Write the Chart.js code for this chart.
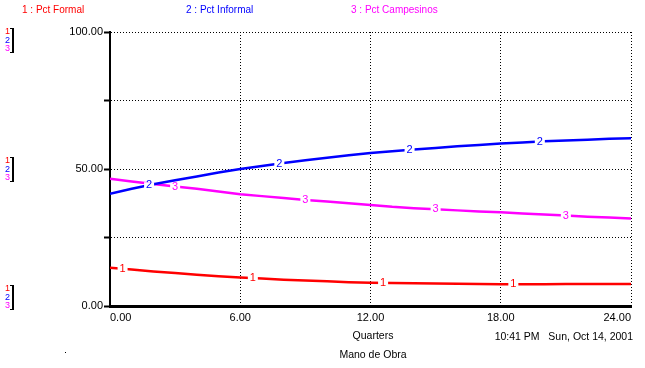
<!DOCTYPE html>
<html>
<head>
<meta charset="utf-8">
<script src="https://cdn.jsdelivr.net/npm/chart.js@4.4.0/dist/chart.umd.min.js"></script>
<style>
    html, body { margin: 0; padding: 0; background: #fff; }
    #wrap { width: 645px; height: 368px; position: relative; }
</style>
</head>
<body>
<div id="wrap"><canvas id="chart" width="645" height="368"></canvas></div>
<script>
// quarters 0..24
const quarters = [0, 1, 2, 3, 4, 5, 6, 7, 8, 9, 10, 11, 12, 13, 14, 15, 16, 17, 18, 19, 20, 21, 22, 23, 24];
const pctFormal = [14.0, 13.3, 12.6, 12.0, 11.4, 10.9, 10.4, 10.0, 9.6, 9.3, 9.0, 8.7, 8.5,
    8.4, 8.3, 8.2, 8.1, 8.0, 7.9, 7.9, 7.9, 8.0, 8.0, 8.0, 8.0];
const pctInformal = [41.0, 42.8, 44.4, 45.9, 47.3, 48.7, 50.0, 51.1, 52.2, 53.2, 54.1, 55.0, 55.8,
    56.5, 57.1, 57.7, 58.3, 58.8, 59.3, 59.7, 60.1, 60.4, 60.7, 61.0, 61.2];
const pctCampesinos = [46.4, 45.4, 44.5, 43.6, 42.8, 41.8, 40.8, 40.1, 39.4, 38.7, 38.1, 37.5, 36.9,
    36.2, 35.7, 35.3, 34.9, 34.5, 34.2, 33.8, 33.4, 33.0, 32.6, 32.3, 31.9];
const seriesNames = ['Pct Formal', 'Pct Informal', 'Pct Campesinos'];
const seriesColors = ['#ff0000', '#0000ff', '#ff00ff'];
// where the series numbers sit on each curve (in quarters)
const markAt = [[0.58, 6.58, 12.58, 18.58], [1.8, 7.8, 13.8, 19.8], [3.0, 9.0, 15.0, 21.0]];
const xTitle = 'Quarters';
const stamp = '10:41 PM   Sun, Oct 14, 2001';
const pageTitle = 'Mano de Obra';

const FONT = '"Liberation Sans", Arial, sans-serif';

function toPoints(values) {
    return values.map((v, i) => ({x: quarters[i], y: v}));
}

function valueAt(values, t) {
    let i = Math.min(Math.floor(t), values.length - 2);
    let f = t - i;
    return values[i] + (values[i + 1] - values[i]) * f;
}

const allSeries = [pctFormal, pctInformal, pctCampesinos];

const stellaPlugin = {
    id: 'stella',
    afterDatasetsDraw(chart) {
        const {ctx, scales: {x, y}} = chart;
        ctx.save();
        ctx.font = '11px ' + FONT;
        ctx.textAlign = 'center';
        ctx.textBaseline = 'middle';
        allSeries.forEach((values, i) => {
            markAt[i].forEach(t => {
                let px = x.getPixelForValue(t),
                    py = y.getPixelForValue(valueAt(values, t));
                ctx.fillStyle = '#fff';
                ctx.fillRect(px - 5, py - 3, 10, 6);
                ctx.fillStyle = seriesColors[i];
                ctx.fillText(String(i + 1), px, py);
            });
        });
        ctx.restore();
    },
    afterDraw(chart) {
        const {ctx, scales: {y}} = chart;
        ctx.save();
        ctx.textBaseline = 'middle';
        ctx.textAlign = 'left';

        // legend across the top
        ctx.font = '10px ' + FONT;
        [22, 186, 351].forEach((lx, i) => {
            ctx.fillStyle = seriesColors[i];
            ctx.fillText((i + 1) + ' : ' + seriesNames[i], lx, 10);
        });

        // little scale keys on the left
        ctx.font = '9px ' + FONT;
        let groups = [y.getPixelForValue(100) - 4, y.getPixelForValue(50) - 12, y.getPixelForValue(0) - 21];
        groups.forEach(top => {
            for (let i = 0; i < 3; i++) {
                ctx.fillStyle = seriesColors[i];
                ctx.fillText(String(i + 1), 5, top + 4 + i * 8.2);
            }
            ctx.fillStyle = '#000';
            ctx.fillRect(12, top, 2, 25);
            ctx.fillRect(10, top, 3, 1);
            ctx.fillRect(10, top + 24, 3, 1);
        });

        // bottom texts
        ctx.fillStyle = '#000';
        ctx.font = '10.5px ' + FONT;
        ctx.textAlign = 'center';
        ctx.fillText(xTitle, 373, 336);
        ctx.fillText(pageTitle, 373, 355);
        ctx.textAlign = 'right';
        ctx.fillText(stamp, 633, 337);
        ctx.fillRect(65, 352, 1, 1);
        ctx.restore();
    }
};

new Chart(document.getElementById('chart'), {
    type: 'line',
    data: {
        datasets: allSeries.map((values, i) => ({
            label: seriesNames[i],
            data: toPoints(values),
            borderColor: seriesColors[i],
            borderWidth: 2.5,
            pointRadius: 0,
            tension: 0,
            fill: false
        }))
    },
    options: {
        responsive: false,
        animation: false,
        devicePixelRatio: 1,
        layout: {padding: {left: 0, top: 32, right: 14, bottom: 0}},
        plugins: {legend: {display: false}, tooltip: {enabled: false}},
        scales: {
            x: {
                type: 'linear',
                min: 0,
                max: 24,
                afterFit: s => { s.height = 62 },
                ticks: {
                    stepSize: 6,
                    callback: v => v.toFixed(2),
                    align: 'inner',
                    maxRotation: 0,
                    color: '#000',
                    padding: 5,
                    font: {family: FONT, size: 11}
                },
                grid: {color: '#000', lineWidth: 1, drawTicks: false},
                border: {color: '#000', width: 3, dash: [1, 2]}
            },
            y: {
                min: 0,
                max: 100,
                afterFit: s => { s.width = 110 },
                ticks: {
                    stepSize: 25,
                    callback: v => (v % 50 === 0 ? v.toFixed(2) : ''),
                    color: '#000',
                    padding: 1,
                    font: {family: FONT, size: 11}
                },
                grid: {color: '#000', lineWidth: 1, tickLength: 6, tickColor: '#000', tickWidth: 2},
                border: {color: '#000', width: 2, dash: [1, 2]}
            }
        }
    },
    plugins: [stellaPlugin]
});
</script>
</body>
</html>
